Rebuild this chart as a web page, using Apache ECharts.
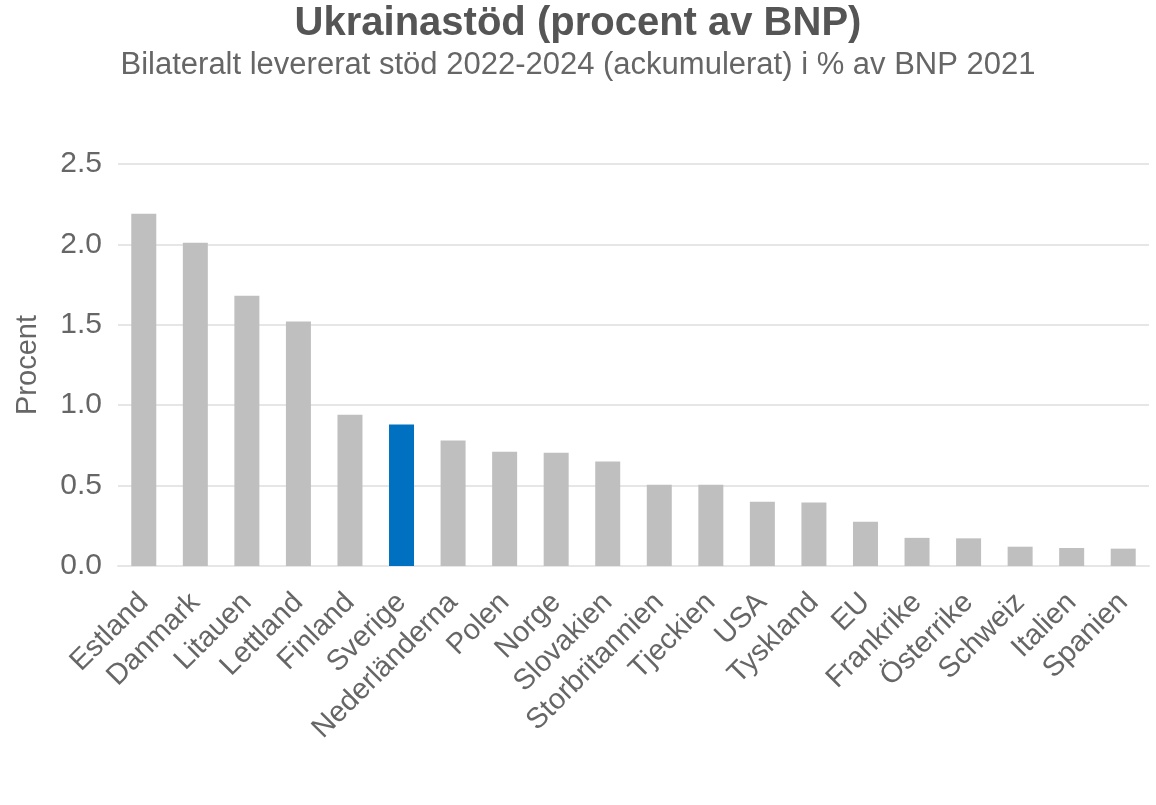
<!DOCTYPE html>
<html>
<head>
<meta charset="utf-8">
<script src="https://cdn.jsdelivr.net/npm/echarts@6/dist/echarts.min.js"></script>
<style>
html,body{margin:0;padding:0;background:#fff;}
#chart{width:1156px;height:805px;}
</style>
</head>
<body>
<div id="chart"></div>
<script>
const categories = ['Estland','Danmark','Litauen','Lettland','Finland','Sverige','Nederländerna','Polen','Norge','Slovakien','Storbritannien','Tjeckien','USA','Tyskland','EU','Frankrike','Österrike','Schweiz','Italien','Spanien'];
const values = [2.19, 2.01, 1.68, 1.52, 0.94, 0.88, 0.78, 0.71, 0.705, 0.65, 0.505, 0.505, 0.40, 0.395, 0.275, 0.175, 0.172, 0.12, 0.112, 0.108];
const highlight = 'Sverige';
const yTicks = [0, 0.5, 1.0, 1.5, 2.0, 2.5];

const FONT = '"Liberation Sans", Arial, sans-serif';
const chart = echarts.init(document.getElementById('chart'), null, {renderer: 'canvas'});
chart.setOption({
  animation: false,
  backgroundColor: '#fff',
  title: {
    text: 'Ukrainastöd (procent av BNP)',
    subtext: 'Bilateralt levererat stöd 2022-2024 (ackumulerat) i % av BNP 2021',
    left: 'center',
    top: -1,
    itemGap: 6,
    textStyle: {fontFamily: FONT, fontSize: 40, fontWeight: 'bold', color: '#555'},
    subtextStyle: {fontFamily: FONT, fontSize: 31, color: '#666'}
  },
  grid: {left: 118, right: 7, top: 164, bottom: 239, containLabel: false},
  xAxis: {
    type: 'category',
    data: categories,
    axisLine: {show: true, lineStyle: {color: '#e6e6e6', width: 2}},
    axisTick: {show: false},
    axisLabel: {interval: 0, rotate: 45, margin: 32, color: '#666', fontFamily: FONT, fontSize: 29}
  },
  yAxis: {
    type: 'value',
    min: yTicks[0],
    max: yTicks[yTicks.length - 1],
    interval: 0.5,
    name: 'Procent',
    nameLocation: 'middle',
    nameGap: 76,
    nameTextStyle: {color: '#666', fontFamily: FONT, fontSize: 29},
    axisLine: {show: false},
    axisTick: {show: false},
    splitLine: {lineStyle: {color: '#e6e6e6', width: 2}},
    axisLabel: {margin: 16, color: '#666', fontFamily: FONT, fontSize: 30, formatter: v => v.toFixed(1)}
  },
  series: [{
    type: 'bar',
    barWidth: 25,
    data: values.map((v, i) => ({
      value: v,
      itemStyle: {color: categories[i] === highlight ? '#0070c0' : '#bfbfbf'}
    }))
  }]
});
</script>
</body>
</html>
